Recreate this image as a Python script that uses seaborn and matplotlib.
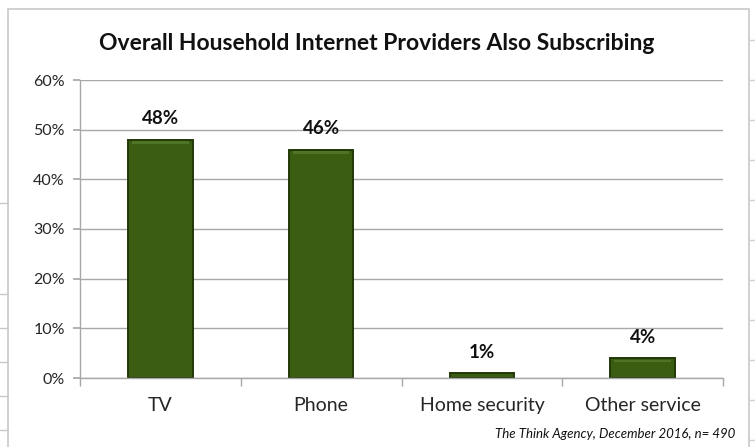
import matplotlib
matplotlib.use("Agg")
import matplotlib.pyplot as plt
from matplotlib.patches import Rectangle
from matplotlib.ticker import MultipleLocator, FixedLocator, NullFormatter
import seaborn as sns
import pandas as pd

categories = ["TV", "Phone", "Home security", "Other service"]
shares = [48, 46, 1, 4]
title = "Overall Household Internet Providers Also Subscribing"
source_note = "The Think Agency, December 2016, n= 490"

sns.set_theme(style="white")
plt.rcParams["font.family"] = ["Lato", "DejaVu Sans"]

W, H = 755, 447
fig = plt.figure(figsize=(W / 100, H / 100), dpi=100)
fig.patch.set_facecolor("white")

# chart frame and the sheet cells around it
fig.add_artist(Rectangle((8 / W, -0.01), 741 / W, (H - 9) / H + 0.01,
                         transform=fig.transFigure, fill=False,
                         edgecolor="#c8c8c8", linewidth=1.2))
for yy in [203, 294, 328, 362, 396, 430]:
    fig.add_artist(plt.Line2D([0, 8 / W], [1 - yy / H] * 2, transform=fig.transFigure,
                              color="#c8c8c8", linewidth=1))
for yy in [40, 80, 120, 160, 200, 240, 280, 320, 360, 400, 440]:
    fig.add_artist(plt.Line2D([749 / W, 1], [1 - yy / H] * 2, transform=fig.transFigure,
                              color="#d0d0d0", linewidth=1))

ax = fig.add_axes([80 / W, (H - 378) / H, (723 - 80) / W, (378 - 80) / H])
df = pd.DataFrame({"category": categories, "share": shares})
sns.barplot(data=df, x="category", y="share", ax=ax, color="#3a5d12",
            width=0.4, edgecolor="#213807", linewidth=1.4, saturation=1)

# soft top highlight for a bevelled look
for patch in ax.patches:
    x0, w, h = patch.get_x(), patch.get_width(), patch.get_height()
    if h > 2:
        ax.add_patch(Rectangle((x0 + w * 0.06, h - 0.8), w * 0.88, 0.5,
                               facecolor="#4f7426", edgecolor="none", zorder=3))

ax.set_xlim(-0.5, 3.5)
ax.set_ylim(0, 60)
ax.yaxis.set_major_locator(MultipleLocator(10))
ax.set_yticklabels([f"{int(v)}%" for v in ax.get_yticks()])
ax.grid(axis="y", color="#a8a8a8", linewidth=1)
ax.set_axisbelow(True)

for s in ["top", "right"]:
    ax.spines[s].set_visible(False)
for s in ["left", "bottom"]:
    ax.spines[s].set_color("#a8a8a8")
    ax.spines[s].set_linewidth(1)

ax.tick_params(axis="y", which="major", length=5, color="#a8a8a8", direction="out",
               labelsize=11.5, pad=6, left=True)
ax.tick_params(axis="x", which="major", length=0, labelsize=14, pad=14)
ax.xaxis.set_minor_locator(FixedLocator([-0.5, 0.5, 1.5, 2.5, 3.5]))
ax.xaxis.set_minor_formatter(NullFormatter())
ax.tick_params(axis="x", which="minor", length=6, color="#a8a8a8", direction="out",
               bottom=True)
ax.set_xlabel("")
ax.set_ylabel("")

for i, v in enumerate(shares):
    ax.annotate(f"{v}%", (i, v), xytext=(0, 9), textcoords="offset points",
                ha="center", va="bottom", fontsize=13.5, fontweight="bold", color="#111111")

fig.text(377 / W, 1 - 44 / H, title, ha="center", va="center",
         fontsize=16.5, fontweight="bold", color="#111111")
fig.text(735 / W, 1 - 434 / H, source_note, ha="right", va="center",
         fontsize=9.5, style="italic", color="#111111")

fig.savefig("out.png", dpi=100)
